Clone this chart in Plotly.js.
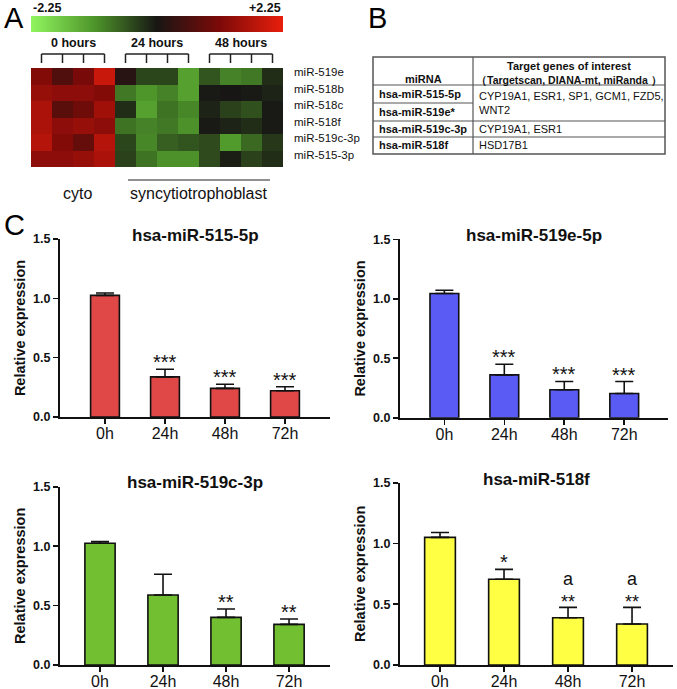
<!DOCTYPE html>
<html><head><meta charset="utf-8">
<script src="https://cdn.plot.ly/plotly-3.0.1.min.js"></script>
<style>html,body{margin:0;padding:0;background:#fff}#chart{width:677px;height:689px}</style>
</head><body><div id="chart"></div>
<script>
const W = 677, H = 689;
const px = x => x / W, py = y => 1 - y / H;
const FONT = 'Arial, "Liberation Sans", sans-serif';

// ---------- Panel A: heatmap ----------
const heatRows = ['miR-519e', 'miR-518b', 'miR-518c', 'miR-518f', 'miR-519c-3p', 'miR-515-3p'];
const heatCols = [0, 1, 2, 3, 4, 5, 6, 7, 8, 9, 10, 11];
const heatGroups = ['0 hours', '24 hours', '48 hours'];
const heatMin = -2.25, heatMax = 2.25;
const z519e  = [1.18, 0.62, 1.07, 1.91, 0.18, -0.42, -0.42, -1.24, -0.55, -0.95, -0.86, -0.20];
const z518b  = [1.39, 1.28, 1.28, 1.18, -0.86, -1.12, -0.95, -1.24, -0.03, 0.00, -0.03, -0.11];
const z518c  = [1.60, 0.74, 0.96, 1.49, -0.20, -1.24, -0.82, -0.99, -0.11, -0.38, -0.51, -0.03];
const z518f  = [1.60, 1.28, 1.39, 1.28, -0.82, -0.95, -0.86, -1.08, -0.03, -0.11, -0.20, -0.03];
const z519c  = [1.70, 1.18, 0.85, 1.70, -0.42, -0.99, -0.64, -0.55, -0.47, -1.18, -0.73, -0.29];
const z515_3 = [1.28, 1.28, 1.39, 1.60, -0.38, -0.82, -1.08, -1.08, -0.47, -0.07, -0.38, -0.20];
const cellLabels = ['cyto', 'syncytiotrophoblast'];

// ---------- Panel B: table ----------
const tableHeader = ['miRNA', 'Target genes of interest', '（Targetscan, DIANA-mt, miRanda ）'];
const tableMiRNA = ['hsa-miR-515-5p', 'hsa-miR-519e*', 'hsa-miR-519c-3p', 'hsa-miR-518f'];
const tableTargets = ['CYP19A1, ESR1, SP1, GCM1, FZD5,<br>WNT2', 'CYP19A1, ESR1', 'HSD17B1'];

// ---------- Panel C: bar charts ----------
const times = ['0h', '24h', '48h', '72h'];
const titles = ['hsa-miR-515-5p', 'hsa-miR-519e-5p', 'hsa-miR-519c-3p', 'hsa-miR-518f'];
const mean515 = [1.025, 0.338, 0.241, 0.221];
const err515  = [0.02, 0.065, 0.035, 0.034];
const sig515  = ['', '***', '***', '***'];
const mean519e = [1.044, 0.36, 0.235, 0.204];
const err519e  = [0.027, 0.09, 0.07, 0.10];
const sig519e  = ['', '***', '***', '***'];
const mean519c = [1.024, 0.589, 0.401, 0.342];
const err519c  = [0.015, 0.174, 0.07, 0.045];
const sig519c  = ['', '', '**', '**'];
const mean518f = [1.05, 0.705, 0.389, 0.337];
const err518f  = [0.04, 0.082, 0.085, 0.137];
const sig518f  = ['', '*', '**', '**'];
const let518f  = ['', '', 'a', 'a'];
const barColors = ['#e04848', '#5a5af5', '#73bf32', '#ffff44'];

const colorscale = [
  [0, 'rgb(145,245,95)'], [0.25, 'rgb(78,150,42)'], [0.5, 'rgb(24,22,20)'],
  [0.75, 'rgb(125,10,8)'], [1, 'rgb(232,30,12)']
];

const traces = [];
const shapes = [];
const annotations = [];
function ann(o) {
  annotations.push(Object.assign({xanchor: 'center', yanchor: 'middle', showarrow: false}, o));
}

traces.push({
  type: 'heatmap', x: heatCols, y: heatRows,
  z: [z519e, z518b, z518c, z518f, z519c, z515_3],
  zmin: heatMin, zmax: heatMax, colorscale: colorscale,
  xaxis: 'x', yaxis: 'y', hoverinfo: 'skip',
  colorbar: {
    orientation: 'h', x: px(157), xanchor: 'center', y: py(24), yanchor: 'middle',
    lenmode: 'pixels', len: 252, thickness: 16, showticklabels: false, ticks: '',
    outlinewidth: 0, xpad: 0, ypad: 0
  }
});

ann({xref: 'paper', yref: 'paper', x: px(31), y: py(8), xanchor: 'left',
  text: heatMin.toFixed(2), font: {size: 12.5, weight: 'bold', color: '#111'}});
ann({xref: 'paper', yref: 'paper', x: px(283), y: py(8), xanchor: 'right',
  text: '+' + heatMax.toFixed(2), font: {size: 12.5, weight: 'bold', color: '#111'}});

heatGroups.forEach((g, i) => {
  const c0 = i * 4, c1 = i * 4 + 3;
  ann({xref: 'x', yref: 'paper', x: (c0 + c1) / 2, y: py(43),
    text: g, font: {size: 12.5, weight: 'bold', color: '#111'}});
  shapes.push({type: 'line', xref: 'x', yref: 'paper', x0: c0, x1: c1, y0: py(54), y1: py(54),
    line: {color: '#222', width: 1.5}});
  for (let c = c0; c <= c1; c++) {
    shapes.push({type: 'line', xref: 'x', yref: 'paper', x0: c, x1: c, y0: py(54), y1: py(63),
      line: {color: '#222', width: 1.5}});
  }
});

ann({xref: 'paper', yref: 'paper', x: px(77), y: py(193), text: cellLabels[0],
  font: {size: 16, color: '#111'}});
ann({xref: 'paper', yref: 'paper', x: px(199), y: py(193), text: cellLabels[1],
  font: {size: 16, color: '#111'}});
shapes.push({type: 'line', xref: 'paper', yref: 'paper', x0: px(128), x1: px(270), y0: py(180), y1: py(180),
  line: {color: '#222', width: 1.2}});

// panel letters
[['A', 14, 18], ['B', 377, 18], ['C', 14, 225]].forEach(([t, x, y]) => {
  ann({xref: 'paper', yref: 'paper', x: px(x), y: py(y), text: t, font: {size: 29, color: '#000'}});
});

// ---------- table drawing ----------
const tL = 373, tR = 665, tT = 57, tB = 154, tMid = 473;
const rowY = [85, 103, 121, 137, 154];
shapes.push({type: 'rect', xref: 'paper', yref: 'paper', x0: px(tL), x1: px(tR), y0: py(tT), y1: py(tB),
  line: {color: '#555', width: 1.5}});
shapes.push({type: 'line', xref: 'paper', yref: 'paper', x0: px(tMid), x1: px(tMid), y0: py(tT), y1: py(tB),
  line: {color: '#555', width: 1.2}});
[85, 121, 137].forEach(y => shapes.push({type: 'line', xref: 'paper', yref: 'paper', x0: px(tL), x1: px(tR),
  y0: py(y), y1: py(y), line: {color: '#555', width: 1.2}}));
shapes.push({type: 'line', xref: 'paper', yref: 'paper', x0: px(tL), x1: px(tMid), y0: py(103), y1: py(103),
  line: {color: '#555', width: 1.2}});

ann({xref: 'paper', yref: 'paper', x: px((tL + tMid) / 2), y: py(79), text: tableHeader[0],
  font: {size: 11, weight: 'bold', color: '#111'}});
ann({xref: 'paper', yref: 'paper', x: px((tMid + tR) / 2), y: py(66), text: tableHeader[1],
  font: {size: 11, weight: 'bold', color: '#111'}});
ann({xref: 'paper', yref: 'paper', x: px((tMid + tR) / 2), y: py(80), text: tableHeader[2],
  font: {size: 10.5, weight: 'bold', color: '#111'}});
tableMiRNA.forEach((t, i) => {
  ann({xref: 'paper', yref: 'paper', x: px(377), y: py((rowY[i] + rowY[i + 1]) / 2),
    xanchor: 'left', text: t, font: {size: 11, weight: 'bold', color: '#111'}});
});
const targetY = [(85 + 121) / 2, (121 + 137) / 2, (137 + 154) / 2];
tableTargets.forEach((t, i) => {
  ann({xref: 'paper', yref: 'paper', x: px(477), y: py(targetY[i]), xanchor: 'left', align: 'left',
    text: t, font: {size: 11, color: '#111'}});
});

// ---------- bar charts ----------
const panels = [
  {mean: mean515, err: err515, sig: sig515, let: null, xd: [60, 330], yd: [239, 417], xr: [-0.75, 3.75]},
  {mean: mean519e, err: err519e, sig: sig519e, let: null, xd: [400, 668], yd: [239.3, 417.7], xr: [-0.74, 3.73]},
  {mean: mean519c, err: err519c, sig: sig519c, let: null, xd: [60, 330], yd: [486.7, 665], xr: [-0.635, 3.65]},
  {mean: mean518f, err: err518f, sig: sig518f, let: let518f, xd: [400, 673], yd: [482.7, 665], xr: [-0.625, 3.64]}
];
const titleY = [235, 235, 482, 479];

const layout = {
  width: W, height: H, margin: {l: 0, r: 0, t: 0, b: 0},
  paper_bgcolor: '#fff', plot_bgcolor: 'rgba(0,0,0,0)',
  font: {family: FONT, color: '#111'}, showlegend: false,
  xaxis: {domain: [px(31), px(283)], range: [-0.5, 11.5], showticklabels: false, showgrid: false,
    zeroline: false, ticks: '', anchor: 'y', fixedrange: true},
  yaxis: {domain: [py(167), py(68)], type: 'category', autorange: 'reversed', side: 'right', anchor: 'x',
    showgrid: false, zeroline: false, ticks: '', ticklabelstandoff: 10, ticklabelshift: 4,
    tickfont: {size: 11.5, color: '#111'}},
  shapes: shapes, annotations: annotations
};

panels.forEach((p, i) => {
  const n = i + 2;
  const xa = 'x' + n, ya = 'y' + n;
  traces.push({
    type: 'bar', x: times, y: p.mean, xaxis: xa, yaxis: ya, width: 0.48,
    marker: {color: barColors[i], line: {color: '#111', width: 1.6}},
    error_y: {type: 'data', symmetric: false, array: p.err, arrayminus: p.mean.map(() => 0),
      color: '#111', thickness: 1.6, width: 9},
    hoverinfo: 'skip'
  });
  layout['xaxis' + n] = {domain: [px(p.xd[0]), px(p.xd[1])], range: p.xr, anchor: ya, type: 'category',
    showline: true, linecolor: '#111', linewidth: 2, ticks: 'outside', ticklen: 5, tickwidth: 1.6,
    tickcolor: '#111', showgrid: false, zeroline: false, ticklabelstandoff: -4,
    tickfont: {size: 16, color: '#111'}};
  layout['yaxis' + n] = {domain: [py(p.yd[1]), py(p.yd[0])], range: [0, 1.5], anchor: xa,
    showline: true, linecolor: '#111', linewidth: 2, ticks: 'outside', ticklen: 5, tickwidth: 1.6,
    tickcolor: '#111', showgrid: false, zeroline: false, tickvals: [0, 0.5, 1.0, 1.5], tickformat: '.1f',
    tickfont: {size: 12.5, weight: 'bold', color: '#111'},
    title: {text: 'Relative expression', font: {size: 14.5, weight: 'bold', color: '#111'}, standoff: 4}};
  ann({xref: xa + ' domain', yref: 'paper', x: 0.5, y: py(titleY[i]), text: titles[i],
    font: {size: 17, weight: 'bold', color: '#111'}});
  times.forEach((t, j) => {
    const letter = p.let ? p.let[j] : '';
    if (letter && p.sig[j]) {
      ann({xref: xa, yref: ya, x: t, y: p.mean[j] + p.err[j], yanchor: 'bottom', yshift: -7,
        text: letter + '<br>' + p.sig[j], font: {size: 18, color: '#111'}});
    } else if (p.sig[j]) {
      ann({xref: xa, yref: ya, x: t, y: p.mean[j] + p.err[j], yanchor: 'bottom', yshift: -6,
        text: p.sig[j], font: {size: 20, color: '#111'}});
    }
  });
});

Plotly.newPlot('chart', traces, layout, {staticPlot: true, displayModeBar: false});
</script>
</body></html>
